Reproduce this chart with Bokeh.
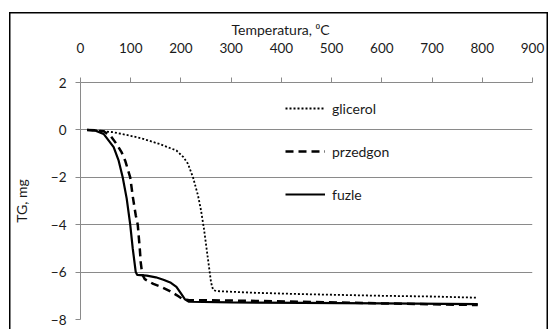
from bokeh.plotting import figure
from bokeh.models import Legend, LegendItem, FixedTicker, Title
from bokeh.embed import file_html
from bokeh.resources import INLINE

# Data
glicerol_T = [13, 30, 66, 100, 125, 158, 191, 205, 214, 224, 234, 240, 246, 251, 256, 260, 264, 270, 343, 442, 600, 700, 791]
glicerol_TG = [0, -0.02, -0.1, -0.25, -0.38, -0.6, -0.87, -1.15, -1.43, -2.0, -2.77, -3.4, -4.2, -5.0, -5.8, -6.44, -6.75, -6.8, -6.87, -6.93, -7.0, -7.03, -7.08]

przedgon_T = [13, 30, 46, 60, 72, 82, 89, 99, 104, 110, 114, 118, 120, 123, 128, 145, 160, 178, 192, 204, 215, 300, 442, 600, 791]
przedgon_TG = [0, -0.02, -0.06, -0.25, -0.6, -0.95, -1.3, -2.0, -2.8, -3.6, -4.0, -5.0, -5.6, -6.1, -6.3, -6.5, -6.62, -6.8, -6.98, -7.15, -7.18, -7.2, -7.25, -7.32, -7.39]

fuzle_T = [13, 30, 46, 66, 76, 84, 92, 99, 104, 110, 113, 132, 150, 165, 180, 191, 200, 208, 216, 300, 442, 600, 791]
fuzle_TG = [0, -0.03, -0.17, -0.73, -1.3, -2.0, -2.9, -4.0, -5.0, -6.0, -6.12, -6.15, -6.22, -6.32, -6.45, -6.62, -6.9, -7.15, -7.25, -7.28, -7.3, -7.32, -7.35]

x_ticks = [0, 100, 200, 300, 400, 500, 600, 700, 800, 900]
y_ticks = [-8, -6, -4, -2, 0, 2]

FONT = "Lato"
TXT = "#1a1a1a"
GRID = "#8a8a8a"

p = figure(width=539, height=317, x_range=(0, 900), y_range=(-8, 2),
           x_axis_location="above", output_backend="svg", toolbar_location=None,
           min_border_left=68, min_border_right=16, min_border_top=70, min_border_bottom=10,
           margin=(12, 2, 0, 9))
p.outline_line_color = None
p.background_fill_color = "white"
p.border_fill_alpha = 0
p.styles = {"box-shadow": "inset 1.5px 1.5px 0 0 #000000, inset -1.5px 0 0 0 #000000"}

xa = p.xaxis[0]
xa.ticker = FixedTicker(ticks=x_ticks)
xa.major_label_text_font = FONT
xa.major_label_text_font_size = "13.5px"
xa.major_label_text_color = TXT
xa.major_label_standoff = 25
xa.axis_line_color = GRID
xa.major_tick_line_color = GRID
xa.major_tick_out = 5
xa.major_tick_in = 0
xa.minor_tick_line_color = None

title = Title(text="Temperatura, ⁰C", align="left", offset=151, standoff=4,
              text_font=FONT, text_font_size="14px", text_font_style="normal",
              text_color=TXT)
p.add_layout(title, "above")

ya = p.yaxis[0]
ya.ticker = FixedTicker(ticks=y_ticks)
ya.axis_label = "TG, mg"
ya.axis_label_text_font = FONT
ya.axis_label_text_font_size = "14px"
ya.axis_label_text_font_style = "normal"
ya.axis_label_text_color = TXT
ya.axis_label_standoff = 18
ya.major_label_text_font = FONT
ya.major_label_text_font_size = "13.5px"
ya.major_label_text_color = TXT
ya.major_label_standoff = 9
ya.axis_line_color = GRID
ya.major_tick_line_color = GRID
ya.major_tick_out = 5
ya.major_tick_in = 0
ya.minor_tick_line_color = None

p.xgrid.grid_line_color = None
p.ygrid.ticker = FixedTicker(ticks=y_ticks)
p.ygrid.grid_line_color = GRID
p.ygrid.grid_line_width = 1

r1 = p.line(glicerol_T, glicerol_TG, line_color="black", line_width=1.8, line_dash="2 2")
r2 = p.line(przedgon_T, przedgon_TG, line_color="black", line_width=2.5, line_dash="8 5")
r3 = p.line(fuzle_T, fuzle_TG, line_color="black", line_width=2.2)

legend = Legend(items=[LegendItem(label="glicerol", renderers=[r1]),
                       LegendItem(label="przedgon", renderers=[r2]),
                       LegendItem(label="fuzle", renderers=[r3])],
                location=(205, 115), orientation="vertical")
legend.border_line_color = None
legend.background_fill_alpha = 0
legend.padding = 0
legend.margin = 0
legend.spacing = 23
legend.glyph_width = 40
legend.glyph_height = 20
legend.label_height = 20
legend.label_standoff = 7
legend.label_text_font = FONT
legend.label_text_font_size = "14px"
legend.label_text_color = TXT
p.add_layout(legend, "center")

open("out.html", "w").write(file_html(p, INLINE))
